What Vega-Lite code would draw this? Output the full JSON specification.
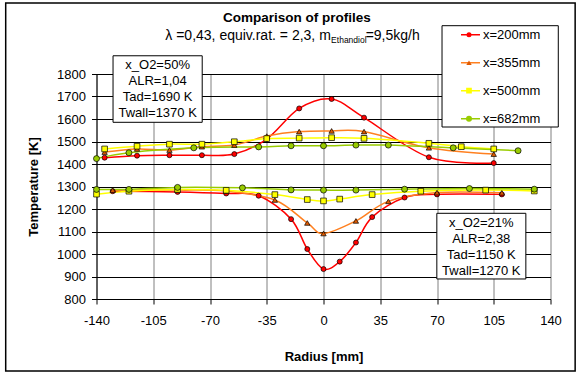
{
  "$schema": "https://vega.github.io/schema/vega-lite/v6.json",
  "width": 454,
  "height": 225,
  "autosize": "none",
  "padding": {"left": 96.5, "top": 74, "right": 26.5, "bottom": 77},
  "background": "white",
  "datasets": {
    "profiles": [
      {"series": "x=200mm", "group": "50%", "r": -135, "T": 1428},
      {"series": "x=200mm", "group": "50%", "r": -115, "T": 1437},
      {"series": "x=200mm", "group": "50%", "r": -95, "T": 1439},
      {"series": "x=200mm", "group": "50%", "r": -75, "T": 1439},
      {"series": "x=200mm", "group": "50%", "r": -55, "T": 1444},
      {"series": "x=200mm", "group": "50%", "r": -35, "T": 1511},
      {"series": "x=200mm", "group": "50%", "r": -15, "T": 1647},
      {"series": "x=200mm", "group": "50%", "r": 5, "T": 1689},
      {"series": "x=200mm", "group": "50%", "r": 25, "T": 1606},
      {"series": "x=200mm", "group": "50%", "r": 65, "T": 1430},
      {"series": "x=200mm", "group": "50%", "r": 105, "T": 1404},
      {"series": "x=200mm", "group": "21%", "r": -130, "T": 1279},
      {"series": "x=200mm", "group": "21%", "r": -90, "T": 1276},
      {"series": "x=200mm", "group": "21%", "r": -60, "T": 1269},
      {"series": "x=200mm", "group": "21%", "r": -40, "T": 1259},
      {"series": "x=200mm", "group": "21%", "r": -20, "T": 1155},
      {"series": "x=200mm", "group": "21%", "r": -10, "T": 1022},
      {"series": "x=200mm", "group": "21%", "r": 0, "T": 933},
      {"series": "x=200mm", "group": "21%", "r": 10, "T": 966},
      {"series": "x=200mm", "group": "21%", "r": 20, "T": 1051},
      {"series": "x=200mm", "group": "21%", "r": 30, "T": 1164},
      {"series": "x=200mm", "group": "21%", "r": 50, "T": 1251},
      {"series": "x=200mm", "group": "21%", "r": 70, "T": 1265},
      {"series": "x=200mm", "group": "21%", "r": 110, "T": 1265},
      {"series": "x=355mm", "group": "50%", "r": -135, "T": 1453},
      {"series": "x=355mm", "group": "50%", "r": -115, "T": 1467},
      {"series": "x=355mm", "group": "50%", "r": -95, "T": 1462},
      {"series": "x=355mm", "group": "50%", "r": -75, "T": 1477},
      {"series": "x=355mm", "group": "50%", "r": -55, "T": 1484},
      {"series": "x=355mm", "group": "50%", "r": -35, "T": 1524},
      {"series": "x=355mm", "group": "50%", "r": -15, "T": 1544},
      {"series": "x=355mm", "group": "50%", "r": 5, "T": 1547},
      {"series": "x=355mm", "group": "50%", "r": 25, "T": 1544},
      {"series": "x=355mm", "group": "50%", "r": 65, "T": 1472},
      {"series": "x=355mm", "group": "50%", "r": 105, "T": 1444},
      {"series": "x=355mm", "group": "21%", "r": -130, "T": 1284},
      {"series": "x=355mm", "group": "21%", "r": -90, "T": 1284},
      {"series": "x=355mm", "group": "21%", "r": -60, "T": 1279},
      {"series": "x=355mm", "group": "21%", "r": -30, "T": 1240},
      {"series": "x=355mm", "group": "21%", "r": -10, "T": 1138},
      {"series": "x=355mm", "group": "21%", "r": 0, "T": 1091},
      {"series": "x=355mm", "group": "21%", "r": 20, "T": 1147},
      {"series": "x=355mm", "group": "21%", "r": 40, "T": 1234},
      {"series": "x=355mm", "group": "21%", "r": 70, "T": 1273},
      {"series": "x=355mm", "group": "21%", "r": 110, "T": 1272},
      {"series": "x=500mm", "group": "50%", "r": -135, "T": 1467},
      {"series": "x=500mm", "group": "50%", "r": -115, "T": 1479},
      {"series": "x=500mm", "group": "50%", "r": -95, "T": 1488},
      {"series": "x=500mm", "group": "50%", "r": -75, "T": 1488},
      {"series": "x=500mm", "group": "50%", "r": -55, "T": 1499},
      {"series": "x=500mm", "group": "50%", "r": -35, "T": 1513},
      {"series": "x=500mm", "group": "50%", "r": -15, "T": 1515},
      {"series": "x=500mm", "group": "50%", "r": 5, "T": 1517},
      {"series": "x=500mm", "group": "50%", "r": 25, "T": 1514},
      {"series": "x=500mm", "group": "50%", "r": 65, "T": 1492},
      {"series": "x=500mm", "group": "50%", "r": 85, "T": 1477},
      {"series": "x=500mm", "group": "50%", "r": 105, "T": 1467},
      {"series": "x=500mm", "group": "21%", "r": -140, "T": 1266},
      {"series": "x=500mm", "group": "21%", "r": -120, "T": 1279},
      {"series": "x=500mm", "group": "21%", "r": -90, "T": 1287},
      {"series": "x=500mm", "group": "21%", "r": -60, "T": 1283},
      {"series": "x=500mm", "group": "21%", "r": -30, "T": 1264},
      {"series": "x=500mm", "group": "21%", "r": -10, "T": 1242},
      {"series": "x=500mm", "group": "21%", "r": 0, "T": 1236},
      {"series": "x=500mm", "group": "21%", "r": 10, "T": 1244},
      {"series": "x=500mm", "group": "21%", "r": 30, "T": 1264},
      {"series": "x=500mm", "group": "21%", "r": 60, "T": 1279},
      {"series": "x=500mm", "group": "21%", "r": 100, "T": 1284},
      {"series": "x=500mm", "group": "21%", "r": 130, "T": 1280},
      {"series": "x=682mm", "group": "50%", "r": -140, "T": 1424},
      {"series": "x=682mm", "group": "50%", "r": -120, "T": 1450},
      {"series": "x=682mm", "group": "50%", "r": -80, "T": 1472},
      {"series": "x=682mm", "group": "50%", "r": -40, "T": 1476},
      {"series": "x=682mm", "group": "50%", "r": -20, "T": 1481},
      {"series": "x=682mm", "group": "50%", "r": 0, "T": 1481},
      {"series": "x=682mm", "group": "50%", "r": 20, "T": 1484},
      {"series": "x=682mm", "group": "50%", "r": 40, "T": 1484},
      {"series": "x=682mm", "group": "50%", "r": 80, "T": 1472},
      {"series": "x=682mm", "group": "50%", "r": 120, "T": 1459},
      {"series": "x=682mm", "group": "21%", "r": -140, "T": 1287},
      {"series": "x=682mm", "group": "21%", "r": -120, "T": 1287},
      {"series": "x=682mm", "group": "21%", "r": -90, "T": 1296},
      {"series": "x=682mm", "group": "21%", "r": -50, "T": 1294},
      {"series": "x=682mm", "group": "21%", "r": -20, "T": 1285},
      {"series": "x=682mm", "group": "21%", "r": 0, "T": 1284},
      {"series": "x=682mm", "group": "21%", "r": 20, "T": 1284},
      {"series": "x=682mm", "group": "21%", "r": 50, "T": 1288},
      {"series": "x=682mm", "group": "21%", "r": 90, "T": 1291},
      {"series": "x=682mm", "group": "21%", "r": 130, "T": 1288}
    ]
  },
  "layer": [
    {
      "data": {"name": "profiles"},
      "mark": {"type": "line", "interpolate": "cardinal", "strokeWidth": 1.5},
      "encoding": {
        "x": {"field": "r", "type": "quantitative", "scale": {"domain": [-140, 140], "nice": false, "zero": false},
          "axis": {"values": [-140, -105, -70, -35, 0, 35, 70, 105, 140], "tickCount": 20, "labelExpr": "'' + datum.value", "labelOverlap": false, "labelFlush": false, "title": "Radius [mm]", "gridColor": "#808080", "labelPadding": 10, "titlePadding": 23}},
        "y": {"field": "T", "type": "quantitative", "scale": {"domain": [800, 1800], "nice": false, "zero": false},
          "axis": {"values": [800, 900, 1000, 1100, 1200, 1300, 1400, 1500, 1600, 1700, 1800], "tickCount": 20, "labelExpr": "'' + datum.value", "labelOverlap": false, "labelFlush": false, "title": "Temperature [K]", "gridColor": "black", "labelPadding": 6, "titlePadding": 16}},
        "color": {"field": "series", "type": "nominal",
          "scale": {"domain": ["x=200mm", "x=355mm", "x=500mm", "x=682mm"], "range": ["#FF0000", "#FF8020", "#FFFF00", "#99CC00"]},
          "legend": {"title": null, "orient": "none", "legendX": 363.5, "legendY": -46.3, "symbolType": "stroke", "symbolSize": 361, "symbolStrokeWidth": 1.5, "padding": 0, "clipHeight": 14, "rowPadding": 14, "labelOffset": 2, "labelFontSize": 13, "labelColor": "black", "labelFont": "Liberation Sans"}},
        "detail": {"field": "group"}
      }
    },
    {
      "data": {"name": "profiles"},
      "mark": {"type": "point", "filled": true, "stroke": "black", "strokeWidth": 0.7, "opacity": 1},
      "encoding": {
        "x": {"field": "r", "type": "quantitative", "scale": {"domain": [-140, 140], "nice": false, "zero": false}},
        "y": {"field": "T", "type": "quantitative", "scale": {"domain": [800, 1800], "nice": false, "zero": false}},
        "fill": {"field": "series", "type": "nominal", "scale": {"range": ["#FF0000", "#E05A00", "#FFFF00", "#99CC00"]},
          "legend": {"title": null, "orient": "none", "legendX": 367.5, "legendY": -46.3, "padding": 0, "clipHeight": 14, "rowPadding": 14, "labelExpr": "''", "symbolStrokeColor": "black", "symbolStrokeWidth": 0.7, "symbolOpacity": 1}},
        "shape": {"field": "series", "type": "nominal", "scale": {"range": ["circle", "triangle-up", "square", "circle"]},
          "legend": {"title": null, "orient": "none", "legendX": 367.5, "legendY": -46.3, "padding": 0, "clipHeight": 14, "rowPadding": 14, "labelExpr": "''", "symbolStrokeColor": "black", "symbolStrokeWidth": 0.7, "symbolOpacity": 1}},
        "size": {"field": "series", "type": "nominal", "scale": {"range": [25, 36, 49, 36]},
          "legend": {"title": null, "orient": "none", "legendX": 367.5, "legendY": -46.3, "padding": 0, "clipHeight": 14, "rowPadding": 14, "labelExpr": "''", "symbolStrokeColor": "black", "symbolStrokeWidth": 0.7, "symbolOpacity": 1}}
      }
    },
    {
      "data": {"values": [{}]},
      "mark": {"type": "rect", "fill": "white", "stroke": "black", "strokeWidth": 1, "clip": false},
      "encoding": {
        "x": {"datum": 73.1, "type": "quantitative", "scale": {"domain": [-140, 140], "nice": false, "zero": false}},
        "x2": {"datum": 144.8},
        "y": {"datum": 2014.7, "type": "quantitative", "scale": {"domain": [800, 1800], "nice": false, "zero": false}},
        "y2": {"datum": 1564.4}
      }
    },
    {
      "data": {"values": [{}]},
      "mark": {"type": "rect", "fill": "white", "stroke": "black", "strokeWidth": 1, "clip": false},
      "encoding": {
        "x": {"datum": -129.8, "type": "quantitative", "scale": {"domain": [-140, 140], "nice": false, "zero": false}},
        "x2": {"datum": -74.8},
        "y": {"datum": 1881, "type": "quantitative", "scale": {"domain": [800, 1800], "nice": false, "zero": false}},
        "y2": {"datum": 1585.3}
      }
    },
    {
      "data": {"values": [{}]},
      "mark": {"type": "rect", "fill": "white", "stroke": "black", "strokeWidth": 1, "clip": false},
      "encoding": {
        "x": {"datum": 69.9, "type": "quantitative", "scale": {"domain": [-140, 140], "nice": false, "zero": false}},
        "x2": {"datum": 124.8},
        "y": {"datum": 1180.9, "type": "quantitative", "scale": {"domain": [800, 1800], "nice": false, "zero": false}},
        "y2": {"datum": 889}
      }
    },
    {
      "data": {"values": [{}]},
      "mark": {"type": "text", "align": "center", "baseline": "middle", "fontSize": 13, "lineHeight": 16, "clip": false,
        "text": ["x_O2=50%", "ALR=1,04", "Tad=1690 K", "Twall=1370 K"]},
      "encoding": {
        "x": {"datum": -102.3, "type": "quantitative", "scale": {"domain": [-140, 140], "nice": false, "zero": false}},
        "y": {"datum": 1840, "type": "quantitative", "scale": {"domain": [800, 1800], "nice": false, "zero": false}}
      }
    },
    {
      "data": {"values": [{}]},
      "mark": {"type": "text", "align": "center", "baseline": "middle", "fontSize": 13, "lineHeight": 16, "clip": false,
        "text": ["x_O2=21%", "ALR=2,38", "Tad=1150 K", "Twall=1270 K"]},
      "encoding": {
        "x": {"datum": 97.3, "type": "quantitative", "scale": {"domain": [-140, 140], "nice": false, "zero": false}},
        "y": {"datum": 1139.1, "type": "quantitative", "scale": {"domain": [800, 1800], "nice": false, "zero": false}}
      }
    },
    {
      "data": {"values": [{}]},
      "mark": {"type": "text", "align": "center", "baseline": "middle", "fontSize": 13.5, "fontWeight": "bold", "clip": false, "text": "Comparison of profiles"},
      "encoding": {
        "x": {"datum": -16.4, "type": "quantitative", "scale": {"domain": [-140, 140], "nice": false, "zero": false}},
        "y": {"datum": 2048.9, "type": "quantitative", "scale": {"domain": [800, 1800], "nice": false, "zero": false}}
      }
    },
    {
      "data": {"values": [{}]},
      "mark": {"type": "text", "align": "right", "baseline": "middle", "fontSize": 14, "clip": false, "text": "λ =0,43, equiv.rat. = 2,3,  m"},
      "encoding": {
        "x": {"datum": 4.5, "type": "quantitative", "scale": {"domain": [-140, 140], "nice": false, "zero": false}},
        "y": {"datum": 1968.9, "type": "quantitative", "scale": {"domain": [800, 1800], "nice": false, "zero": false}}
      }
    },
    {
      "data": {"values": [{}]},
      "mark": {"type": "text", "align": "left", "baseline": "middle", "fontSize": 8.5, "clip": false, "text": "Ethandiol"},
      "encoding": {
        "x": {"datum": 4.7, "type": "quantitative", "scale": {"domain": [-140, 140], "nice": false, "zero": false}},
        "y": {"datum": 1953.3, "type": "quantitative", "scale": {"domain": [800, 1800], "nice": false, "zero": false}}
      }
    },
    {
      "data": {"values": [{}]},
      "mark": {"type": "text", "align": "left", "baseline": "middle", "fontSize": 14, "clip": false, "text": "=9,5kg/h"},
      "encoding": {
        "x": {"datum": 26, "type": "quantitative", "scale": {"domain": [-140, 140], "nice": false, "zero": false}},
        "y": {"datum": 1968.9, "type": "quantitative", "scale": {"domain": [800, 1800], "nice": false, "zero": false}}
      }
    },
    {
      "data": {"values": [{}]},
      "mark": {"type": "rect", "fill": "transparent", "stroke": "black", "strokeWidth": 1.5, "clip": false},
      "encoding": {
        "x": {"datum": -196, "type": "quantitative", "scale": {"domain": [-140, 140], "nice": false, "zero": false}},
        "x2": {"datum": 155.2},
        "y": {"datum": 480, "type": "quantitative", "scale": {"domain": [800, 1800], "nice": false, "zero": false}},
        "y2": {"datum": 2115.6}
      }
    }
  ],
  "config": {
    "font": "Liberation Sans",
    "view": {"stroke": null},
    "axis": {
      "labelFont": "Liberation Sans", "labelFontSize": 13, "labelColor": "black",
      "titleFont": "Liberation Sans", "titleFontSize": 13, "titleFontWeight": "bold", "titleColor": "black",
      "domainColor": "black", "tickColor": "black", "tickSize": 5, "grid": true, "gridOpacity": 1, "gridWidth": 1,
      "labelFlush": false, "labelOverlap": false
    },
    "text": {"font": "Liberation Sans", "color": "black"}
  }
}
